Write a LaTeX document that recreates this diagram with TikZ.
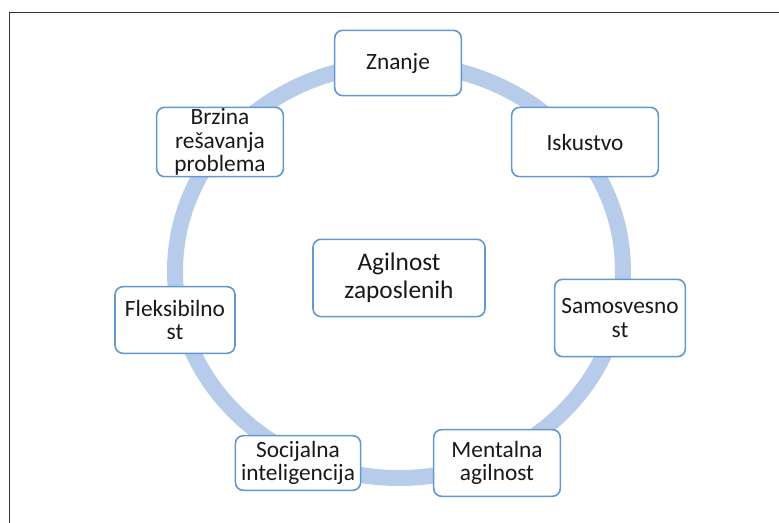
\documentclass[tikz,border=0pt]{standalone}
\usepackage{fontspec}
\setmainfont{Carlito}
\usetikzlibrary{positioning}
\definecolor{boxblue}{RGB}{98,152,208}
\definecolor{ringblue}{RGB}{183,204,234}
\begin{document}
\begin{tikzpicture}
            [x=0.75pt,y=-0.75pt,
             box/.style={draw=boxblue,fill=white,rounded corners=6pt,line width=1.2pt,
                         align=center,inner sep=1pt,text=black!90,
                         font=\fontsize{17.5}{17.5}\selectfont},
             ring/.style={draw=ringblue,line width=12pt},
             frame/.style={draw=black!80,line width=1.4pt}]

            \useasboundingbox (0,0) rectangle (779,523);
            \draw[frame] (9.5,523) -- (9.5,12.5) -- (779,12.5);

            \draw[ring] (399,271) ellipse [x radius=224, y radius=207];

            \node (agil) [box,minimum width=129pt,minimum height=58pt,
                          font=\fontsize{19}{21}\selectfont] at (399,278) {Agilnost\\zaposlenih};

            \node (znanje) [box,minimum width=95pt,minimum height=49pt] at (398,63) {Znanje};
            \node (isk) [box,minimum width=110pt,minimum height=52pt] at (585,142) {Iskustvo};
            \node (samo) [box,minimum width=98pt,minimum height=58pt] at (620,318) {Samosvesno\\st};
            \node (ment) [box,minimum width=95pt,minimum height=50pt] at (497,463) {Mentalna\\agilnost};
            \node (soc) [box,minimum width=94pt,minimum height=41pt] at (298,463) {Socijalna\\inteligencija};
            \node (fleks) [box,minimum width=90pt,minimum height=50pt] at (175,320) {Fleksibilno\\st};
            \node (brz) [box,minimum width=95pt,minimum height=52pt] at (220,142) {Brzina\\rešavanja\\problema};
        \end{tikzpicture}
\end{document}
